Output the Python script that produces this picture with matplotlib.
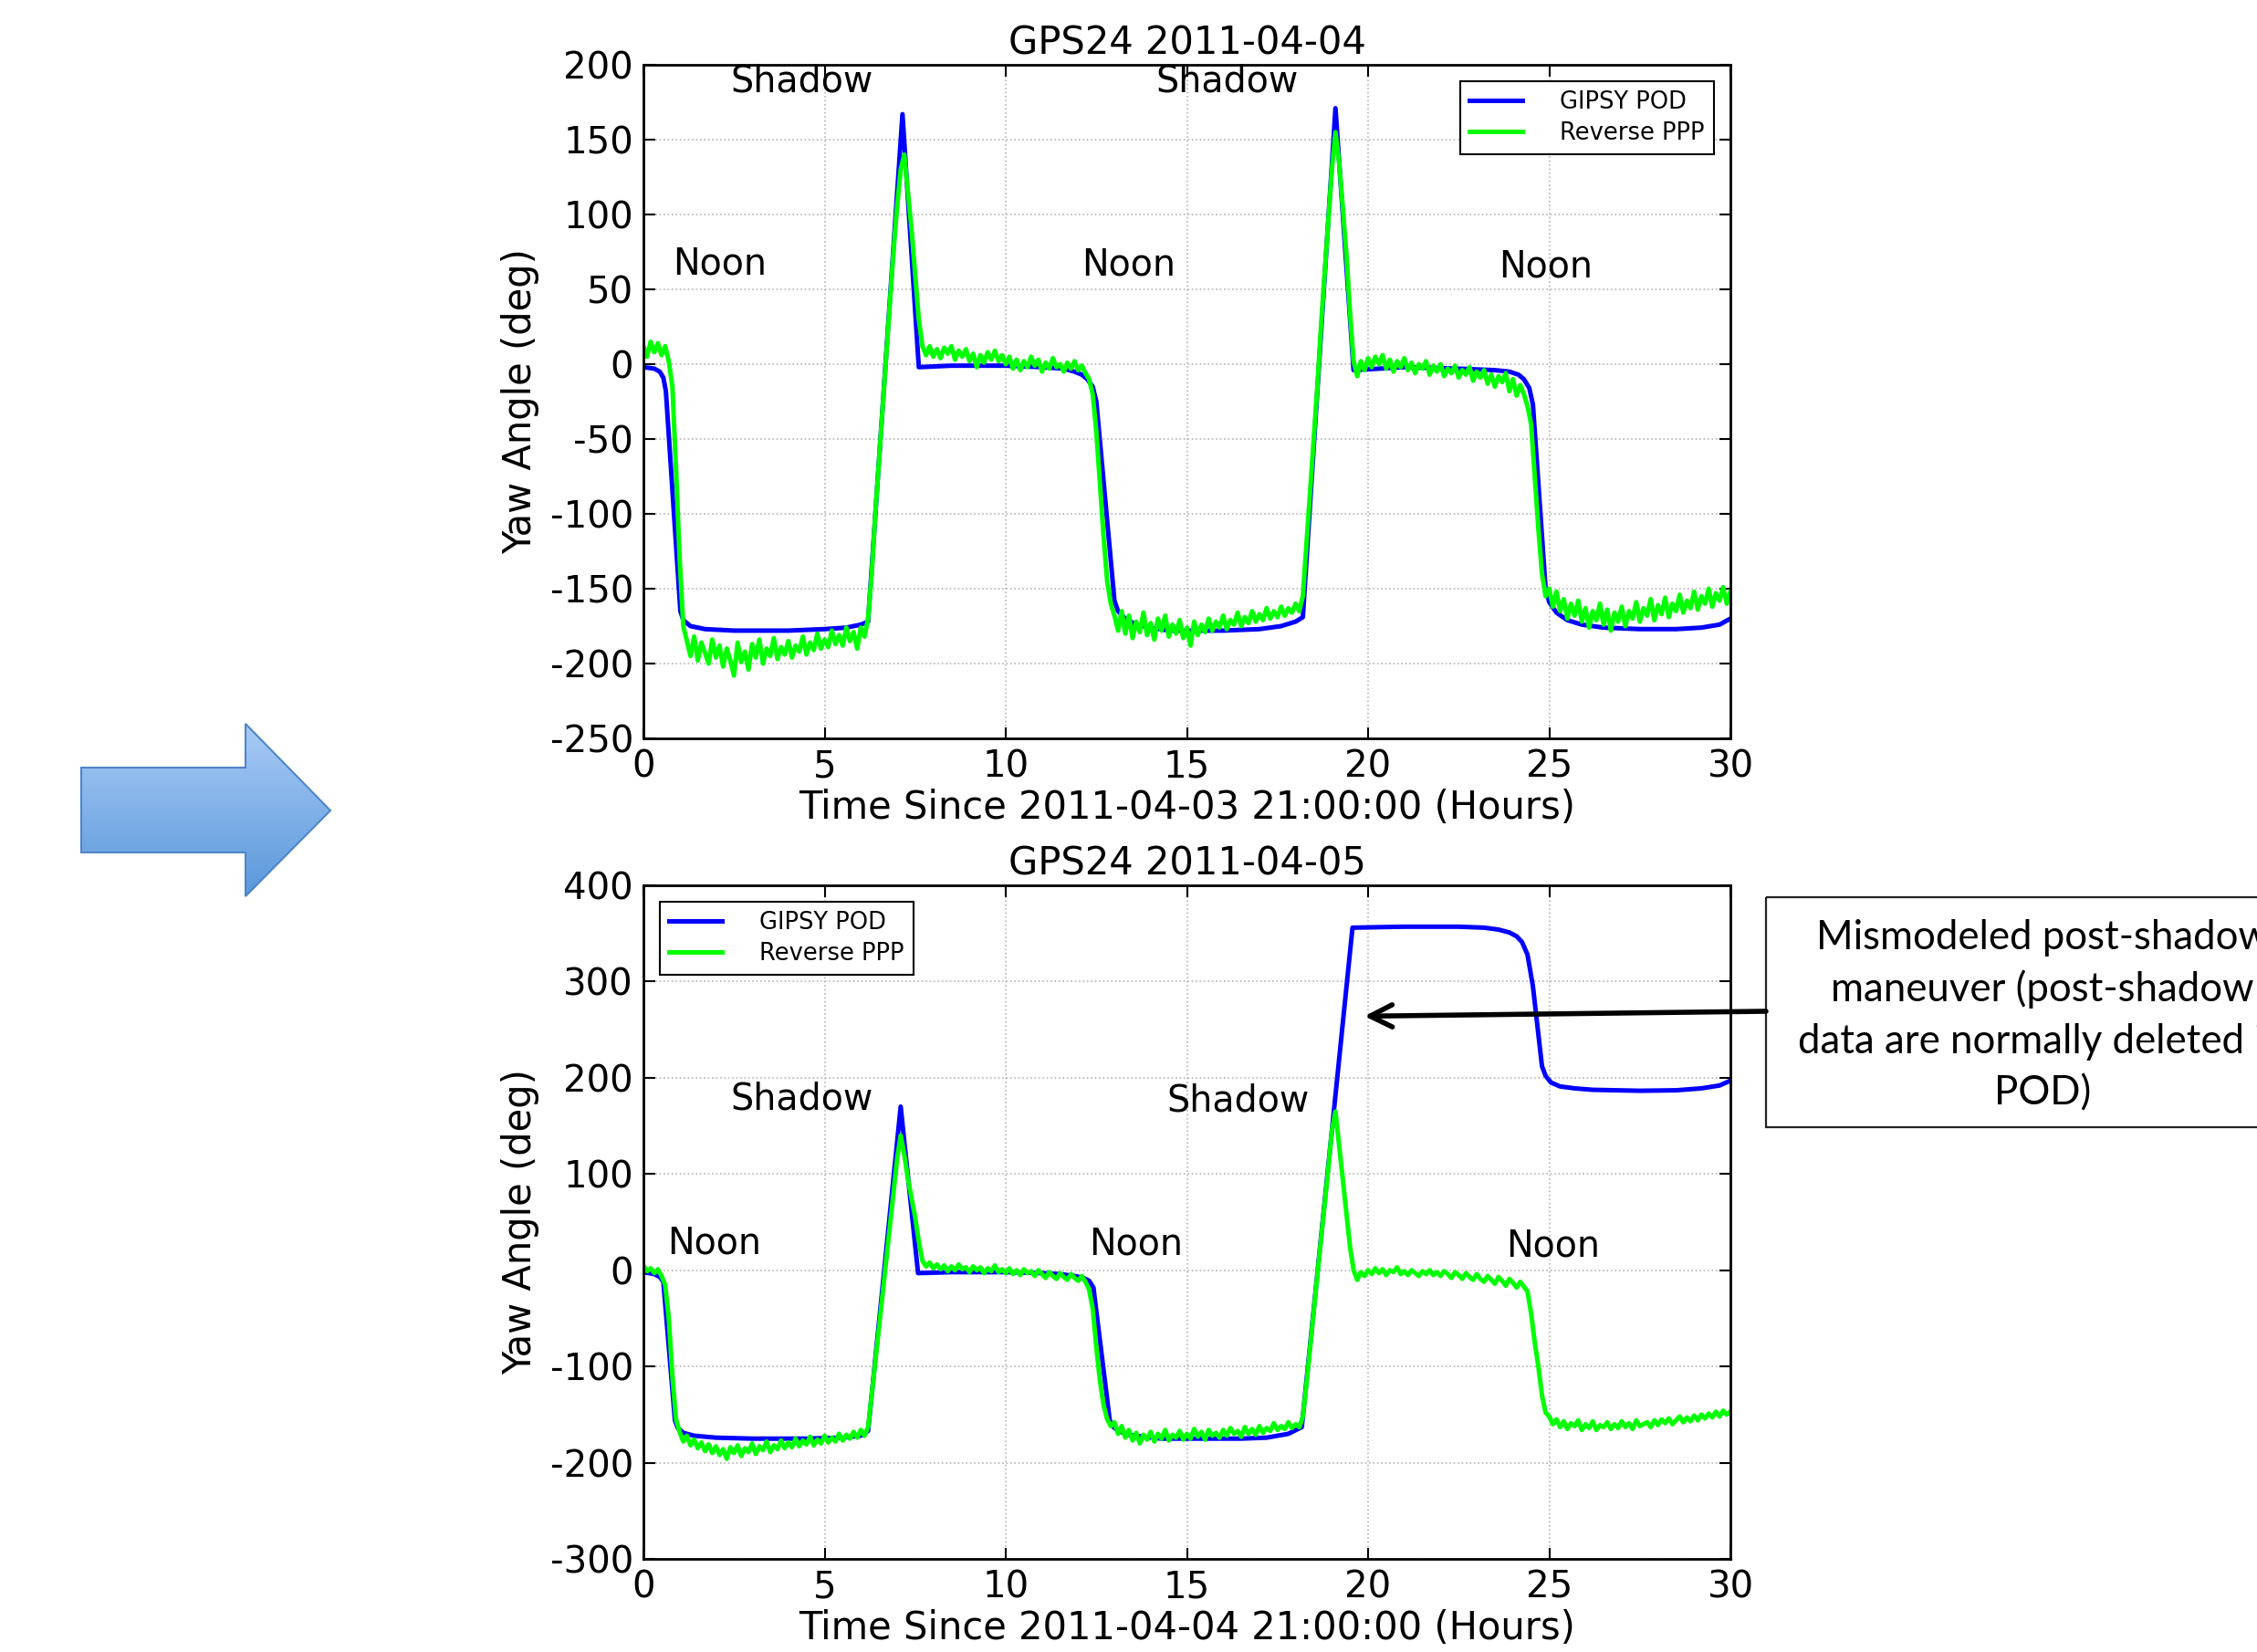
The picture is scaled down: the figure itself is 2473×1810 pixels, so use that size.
import numpy as np
import matplotlib
matplotlib.use("Agg")
import matplotlib.pyplot as plt
from matplotlib.patches import Polygon, Rectangle
from matplotlib.colors import LinearSegmentedColormap

plt.rcParams["font.family"] = ["DejaVu Sans"]
plt.rcParams["axes.unicode_minus"] = False

# ---- data ----
STEP = 0.1  # green series sampled every 0.1 h, 0..30

# 2011-04-04, GIPSY POD (blue) knots
pod1_t = [0, 0.3, 0.45, 0.55, 0.62, 1.02, 1.1, 1.3, 1.7, 2.5, 4.0, 5.0, 5.6, 6.0, 6.2,
          7.15, 7.6, 8.5, 10.0, 11.0, 11.6, 11.9, 12.1, 12.25, 12.4, 12.5, 13.0, 13.1, 13.3,
          13.6, 14.0, 14.5, 16.0, 17.0, 17.6, 18.0, 18.2, 19.1, 19.6, 21.0, 22.5, 23.5,
          23.9, 24.15, 24.3, 24.45, 24.55, 24.9, 25.0, 25.2, 25.5, 25.9, 26.5, 27.5, 28.5,
          29.2, 29.7, 30.0]
pod1_v = [-2, -3, -5, -9, -18, -165, -171, -175, -177, -178, -178, -177, -176, -174, -172,
          167, -2, -1, -1, -2, -3, -5, -7, -10, -15, -25, -158, -165, -170,
          -174, -176, -178, -178, -177, -175, -172, -169, 171, -4, -2, -3, -4,
          -5, -7, -10, -16, -27, -150, -159, -166, -171, -174, -176, -177, -177,
          -176, -174, -170]

# 2011-04-04, Reverse PPP (green), one row per hour
ppp1_v = [
    12, 5, 15, 8, 14, 6, 12, 2, -15, -70,
    -130, -175, -185, -195, -182, -198, -186, -193, -200, -184,
    -196, -188, -202, -190, -198, -208, -186, -199, -192, -204,
    -187, -196, -184, -200, -190, -195, -183, -197, -189, -194,
    -185, -196, -188, -192, -182, -194, -186, -191, -180, -190,
    -184, -189, -178, -187, -181, -188, -176, -185, -179, -190,
    -176, -182, -170, -140, -100, -65, -30, 5, 40, 75,
    105, 130, 140, 115, 90, 60, 30, 12, 6, 12,
    5, 10, 4, 11, 7, 12, 3, 9, 5, 10,
    2, 7, -2, 6, 1, 8, 3, 9, 2, 6,
    0, 5, -3, 3, -4, 2, -2, 5, -1, 3,
    -5, 1, -3, 4, -2, 0, -5, 1, -3, 2,
    -4, -1, -6, -10, -20, -45, -80, -115, -145, -160,
    -168, -178, -165, -180, -168, -183, -172, -179, -166, -181,
    -173, -184, -170, -178, -168, -182, -174, -180, -171, -183,
    -176, -188, -172, -181, -174, -179, -170, -178, -172, -176,
    -168, -177, -171, -174, -166, -175, -169, -173, -165, -172,
    -167, -171, -163, -170, -165, -169, -162, -168, -163, -166,
    -160, -165, -155, -120, -85, -50, -15, 25, 60, 95,
    130, 155, 135, 105, 74, 35, 2, -8, 2, -4,
    4, -2, 5, 0, 6, -3, 3, -5, 2, -2,
    4, -4, 1, -6, 0, -3, 2, -7, -1, -5,
    0, -8, -3, -6, -1, -9, -4, -7, -2, -11,
    -5, -9, -4, -13, -7, -15, -8, -12, -6, -18,
    -10, -21, -14, -20, -28, -40, -75, -110, -140, -155,
    -150, -162, -152, -165, -157, -170, -160, -168, -158, -172,
    -163, -176, -165, -171, -160, -174, -164, -178, -166, -172,
    -162, -175, -165, -170, -159, -172, -163, -168, -157, -171,
    -161, -167, -156, -169, -160, -165, -154, -166, -158, -163,
    -152, -164, -155, -160, -150, -162, -153, -158, -149, -160,
    -152,
]

# 2011-04-05, GIPSY POD (blue) knots
pod2_t = [0, 0.3, 0.45, 0.55, 0.87, 0.95, 1.1, 1.4, 2.0, 3.0, 4.5, 5.5, 6.0, 6.2, 7.1,
          7.58, 8.5, 10.0, 11.0, 11.5, 11.9, 12.15, 12.3, 12.42, 12.87, 12.95, 13.1, 13.4,
          13.8, 14.3, 15.5, 16.5, 17.2, 17.8, 18.17, 19.57, 21.0, 22.5, 23.2, 23.6, 23.9,
          24.1, 24.25, 24.4, 24.55, 24.8, 24.9, 25.05, 25.3, 25.7, 26.2, 27.5, 28.5, 29.2,
          29.7, 30.0]
pod2_v = [-2, -4, -7, -12, -156, -164, -169, -172, -174, -175, -175, -174, -172, -167, 170,
          -3, -2, -2, -3, -4, -6, -8, -11, -18, -156, -162, -167, -171,
          -173, -175, -175, -175, -174, -170, -163, 356, 357, 357, 356, 354, 351,
          347, 341, 328, 295, 212, 202, 195, 191, 189, 187.5, 186.5, 187, 189,
          192, 197]

# 2011-04-05, Reverse PPP (green)
ppp2_v = [
    5, -1, 2, -3, 1, -6, -15, -50, -110, -155,
    -168, -178, -172, -182, -176, -185, -179, -188, -181, -190,
    -183, -192, -186, -196, -184, -190, -182, -193, -185, -189,
    -180, -191, -183, -187, -178, -189, -182, -186, -177, -185,
    -179, -184, -175, -183, -177, -181, -173, -182, -176, -180,
    -172, -179, -174, -178, -170, -177, -171, -175, -168, -174,
    -166, -172, -163, -130, -95, -60, -25, 10, 45, 80,
    115, 140, 120, 95, 75, 55, 30, 10, 4, 8,
    2, 6, 1, 5, -1, 4, 0, 6, 1, 3,
    -2, 4, 0, 3, -3, 2, -1, 5, -2, 1,
    -3, 2, -4, 0, -5, 1, -3, -1, -6, 0,
    -4, -8, -2, -6, -9, -3, -7, -10, -4, -8,
    -11, -6, -12, -20, -40, -80, -115, -140, -155, -162,
    -158, -170, -162, -174, -166, -177, -169, -180, -171, -176,
    -168, -178, -170, -175, -166, -177, -171, -174, -167, -176,
    -170, -175, -165, -173, -168, -176, -166, -172, -169, -174,
    -166, -172, -164, -170, -167, -173, -163, -170, -165, -171,
    -162, -169, -164, -167, -159, -166, -162, -165, -158, -164,
    -160, -163, -152, -118, -80, -43, -5, 32, 70, 105,
    145, 165, 130, 95, 60, 25, 0, -10, -2, -6,
    0, -4, 2, -3, 1, -5, 0, -2, 3, -4,
    -1, -5, 0, -3, -6, -1, -4, 0, -5, -2,
    -6, -1, -4, -8, -2, -5, -9, -3, -7, -10,
    -4, -9, -12, -6, -10, -14, -7, -11, -16, -9,
    -13, -18, -12, -17, -22, -45, -75, -100, -130, -148,
    -152, -160, -155, -163, -157, -165, -159, -162, -156, -166,
    -160, -164, -157, -166, -161, -163, -158, -165, -160, -164,
    -157, -163, -159, -165, -156, -162, -160, -158, -163, -156,
    -161, -155, -159, -154, -160, -156, -152, -158, -153, -157,
    -151, -156, -150, -154, -149, -153, -147, -152, -146, -150,
    -147,
]

titles = ["GPS24 2011-04-04", "GPS24 2011-04-05"]
xlabels = ["Time Since 2011-04-03 21:00:00 (Hours)", "Time Since 2011-04-04 21:00:00 (Hours)"]
yticks = [[200, 150, 100, 50, 0, -50, -100, -150, -200, -250],
          [400, 300, 200, 100, 0, -100, -200, -300]]
ylims = [(-250, 200), (-300, 400)]
xticks = [0, 5, 10, 15, 20, 25, 30]

# region labels: (text, t, deg)
labels1 = [("Shadow", 4.36, 189), ("Shadow", 16.1, 189),
           ("Noon", 2.1, 67), ("Noon", 13.4, 66), ("Noon", 24.9, 65)]
labels2 = [("Shadow", 4.36, 178), ("Shadow", 16.4, 176),
           ("Noon", 1.95, 28), ("Noon", 13.6, 27), ("Noon", 25.1, 25)]

note_lines = ["Mismodeled post-shadow", "maneuver (post-shadow",
              "data are normally deleted in", "POD)"]

W, H = 2473, 1810
fig = plt.figure(figsize=(W / 100, H / 100), dpi=100)
fig.patch.set_facecolor("white")

ax1 = fig.add_axes([705 / W, 1 - 809 / H, 1191 / W, 738 / H])
ax2 = fig.add_axes([705 / W, 1 - 1708 / H, 1191 / W, 738 / H])

t_grid = np.round(np.arange(len(ppp1_v)) * STEP, 2)

panels = [(ax1, pod1_t, pod1_v, ppp1_v, labels1, "upper right"),
          (ax2, pod2_t, pod2_v, ppp2_v, labels2, "upper left")]

for i, (ax, pt, pv, gv, labs, lloc) in enumerate(panels):
    ax.plot(pt, pv, color="#0000ff", lw=3.6, label="GIPSY POD", solid_joinstyle="round")
    ax.plot(t_grid, gv, color="#00ff00", lw=3.6, label="Reverse PPP")
    ax.set_xlim(0, 30)
    ax.set_ylim(*ylims[i])
    ax.set_xticks(xticks)
    ax.set_yticks(yticks[i])
    ax.grid(True, color="#b5b5b5", linestyle=":", lw=1.2)
    ax.tick_params(direction="in", top=True, right=True, length=9, width=1.5,
                   labelsize=29, pad=8)
    for sp in ax.spines.values():
        sp.set_linewidth(2)
        sp.set_color("black")
    ax.set_title(titles[i], fontsize=30, pad=8)
    ax.set_xlabel(xlabels[i], fontsize=30, labelpad=3)
    ax.set_ylabel("Yaw Angle (deg)", fontsize=30, labelpad=8)
    for txt, tx, ty in labs:
        ax.text(tx, ty, txt, fontsize=28.5, ha="center", va="center")
    leg = ax.legend(loc=lloc, fontsize=18.5, fancybox=False, edgecolor="black",
                    framealpha=1, handlelength=2.25, handletextpad=1.6,
                    labelspacing=0.3, borderpad=0.4, borderaxespad=0.7)
    leg.get_frame().set_linewidth(1.5)

# overlay in figure pixels for the slide decorations
ov = fig.add_axes([0, 0, 1, 1], zorder=10)
ov.axis("off")

arrow_pts = [(89, 841), (269, 841), (269, 793), (362, 888), (269, 982), (269, 934), (89, 934)]
poly = Polygon(arrow_pts, closed=True, fc="none", ec="#4f86c6", lw=1.5, zorder=3)
ov.add_patch(poly)
grad = np.linspace(0, 1, 256).reshape(-1, 1)
cmap = LinearSegmentedColormap.from_list("arr", ["#a9cbf7", "#5a98da"])
im = ov.imshow(grad, cmap=cmap, extent=(89, 362, 982, 793), origin="upper",
               aspect="auto", zorder=2)
im.set_clip_path(poly)

box = Rectangle((1935, 983), 610, 252, fill=False, ec="#222222", lw=1.6)
ov.add_patch(box)
for k, line in enumerate(note_lines):
    ov.text(2238, 1027 + k * 57, line, fontsize=31.5, family=["Lato", "DejaVu Sans"],
            ha="center", va="center")

ov.set_xlim(0, W)
ov.set_ylim(H, 0)

ov.annotate("", xy=(19.9, 264), xycoords=ax2.transData,
            xytext=(1935, 1108), textcoords="data",
            arrowprops=dict(arrowstyle="->,head_length=0.7,head_width=0.35",
                            color="black", lw=4, mutation_scale=25,
                            shrinkA=0, shrinkB=0))

fig.savefig("out.png", dpi=100, facecolor="white")
